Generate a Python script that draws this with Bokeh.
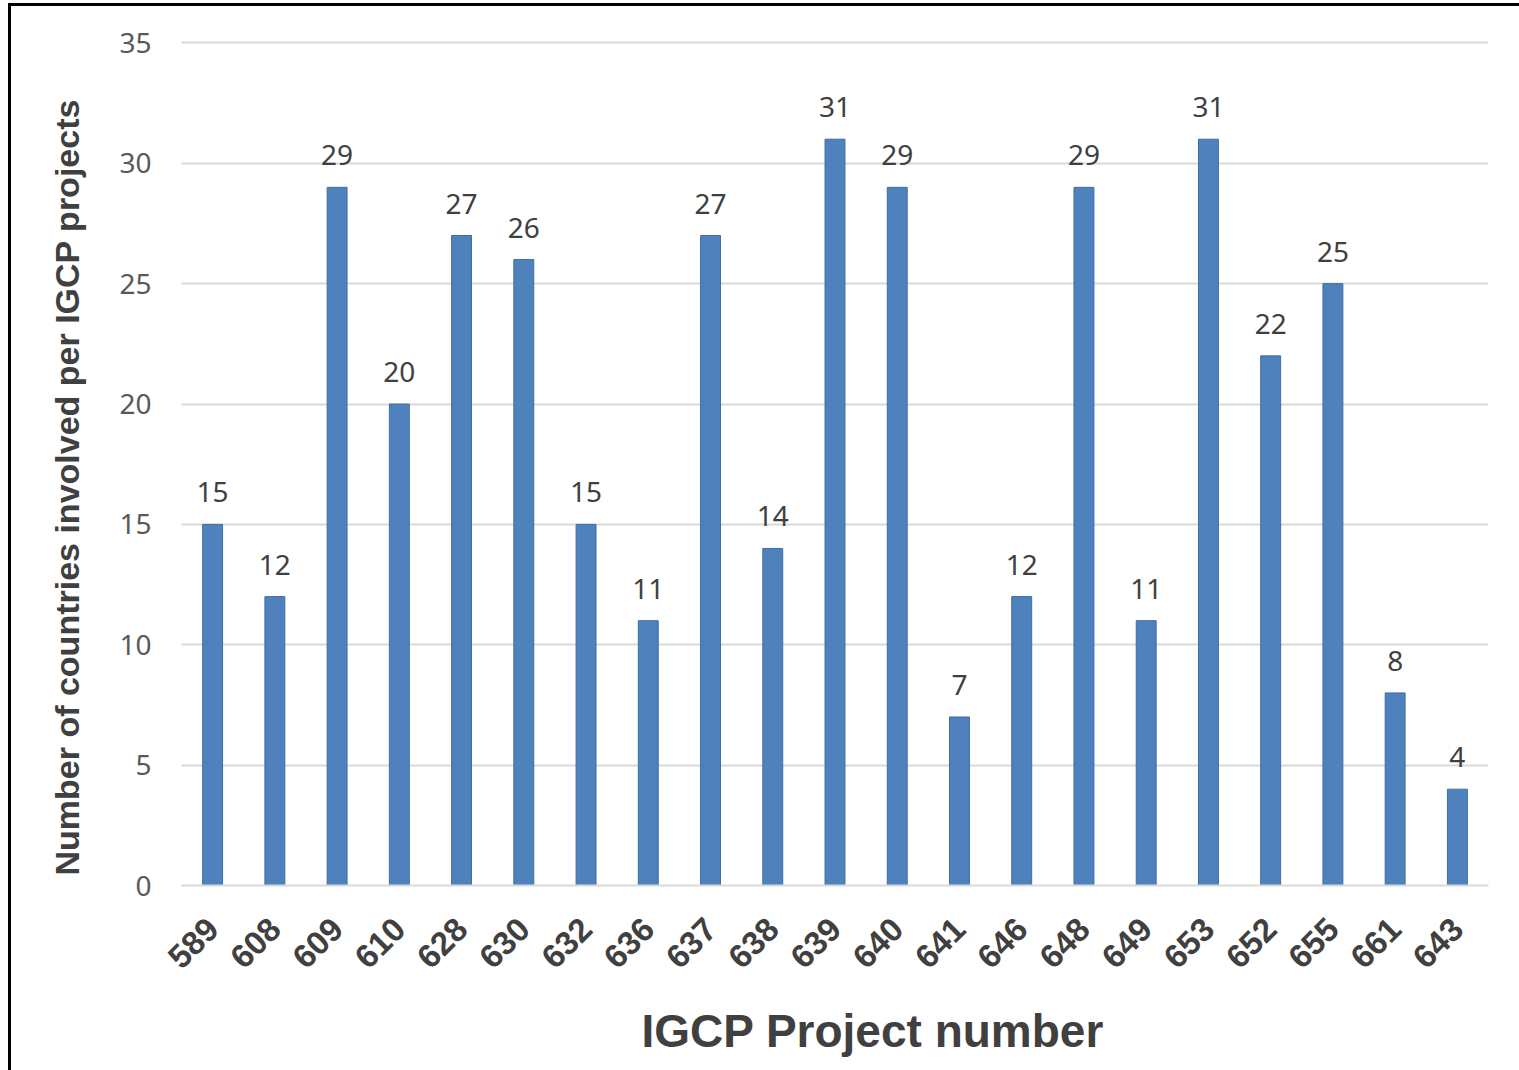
import numpy as np
from bokeh.plotting import figure
from bokeh.models import ColumnDataSource, LabelSet, Title, FixedTicker
from bokeh.core.properties import value
from bokeh.embed import file_html
from bokeh.resources import INLINE

projects = ["589", "608", "609", "610", "628", "630", "632", "636", "637", "638", "639",
            "640", "641", "646", "648", "649", "653", "652", "655", "661", "643"]
countries = [15, 12, 29, 20, 27, 26, 15, 11, 27, 14, 31, 29, 7, 12, 29, 11, 31, 22, 25, 8, 4]
y_ticks = [0, 5, 10, 15, 20, 25, 30, 35]

source = ColumnDataSource(dict(x=projects, y=countries, label=[str(v) for v in countries]))

p = figure(x_range=projects, y_range=(0, 35.1),
           frame_width=1307, frame_height=845,
           min_border_left=170, min_border_top=34, min_border_right=31, min_border_bottom=181,
           output_backend="svg", toolbar_location=None)
p.styles = {"border-left": "3px solid black", "border-top": "3px solid black",
            "margin-left": "8px", "margin-top": "3px"}
p.outline_line_color = None
p.background_fill_color = "white"

p.vbar(x="x", top="y", width=0.32, source=source,
       fill_color="#4F81BD", line_color="#3C6EA5", line_width=1)

labels = LabelSet(x="x", y="y", text="label", source=source, y_offset=22,
                  text_align="center", text_baseline="alphabetic",
                  text_font=value("Noto Sans"), text_font_size=value("28px"),
                  text_color="#404040")
p.add_layout(labels)

# grid
p.xgrid.grid_line_color = None
p.ygrid.grid_line_color = "#D9D9D9"
p.ygrid.grid_line_width = 2
p.yaxis.ticker = FixedTicker(ticks=y_ticks)

# y axis
p.yaxis.axis_line_color = None
p.yaxis.major_tick_line_color = None
p.yaxis.minor_tick_line_color = None
p.yaxis.major_label_text_font = "Noto Sans"
p.yaxis.major_label_text_font_size = "28px"
p.yaxis.major_label_text_color = "#595959"
p.yaxis.major_label_standoff = 24

# x axis
p.xaxis.axis_line_color = "#D9D9D9"
p.xaxis.axis_line_width = 2
p.xaxis.major_tick_line_color = None
p.xaxis.minor_tick_line_color = None
p.xaxis.major_label_orientation = np.pi / 4
p.xaxis.major_label_text_font = "Liberation Sans"
p.xaxis.major_label_text_font_style = "bold"
p.xaxis.major_label_text_font_size = "33px"
p.xaxis.major_label_text_color = "#404040"
p.xaxis.major_label_standoff = 32

xt = Title(text="IGCP Project number", align="left", offset=460, standoff=42,
           text_font="Liberation Sans", text_font_style="bold",
           text_font_size="46px", text_color="#404040")
p.add_layout(xt, "below")

yt = Title(text="Number of countries involved per IGCP projects", align="left", offset=10,
           standoff=62, text_font="Liberation Sans", text_font_style="bold",
           text_font_size="34px", text_color="#404040")
p.add_layout(yt, "left")

open("out.html", "w").write(file_html(p, INLINE))
